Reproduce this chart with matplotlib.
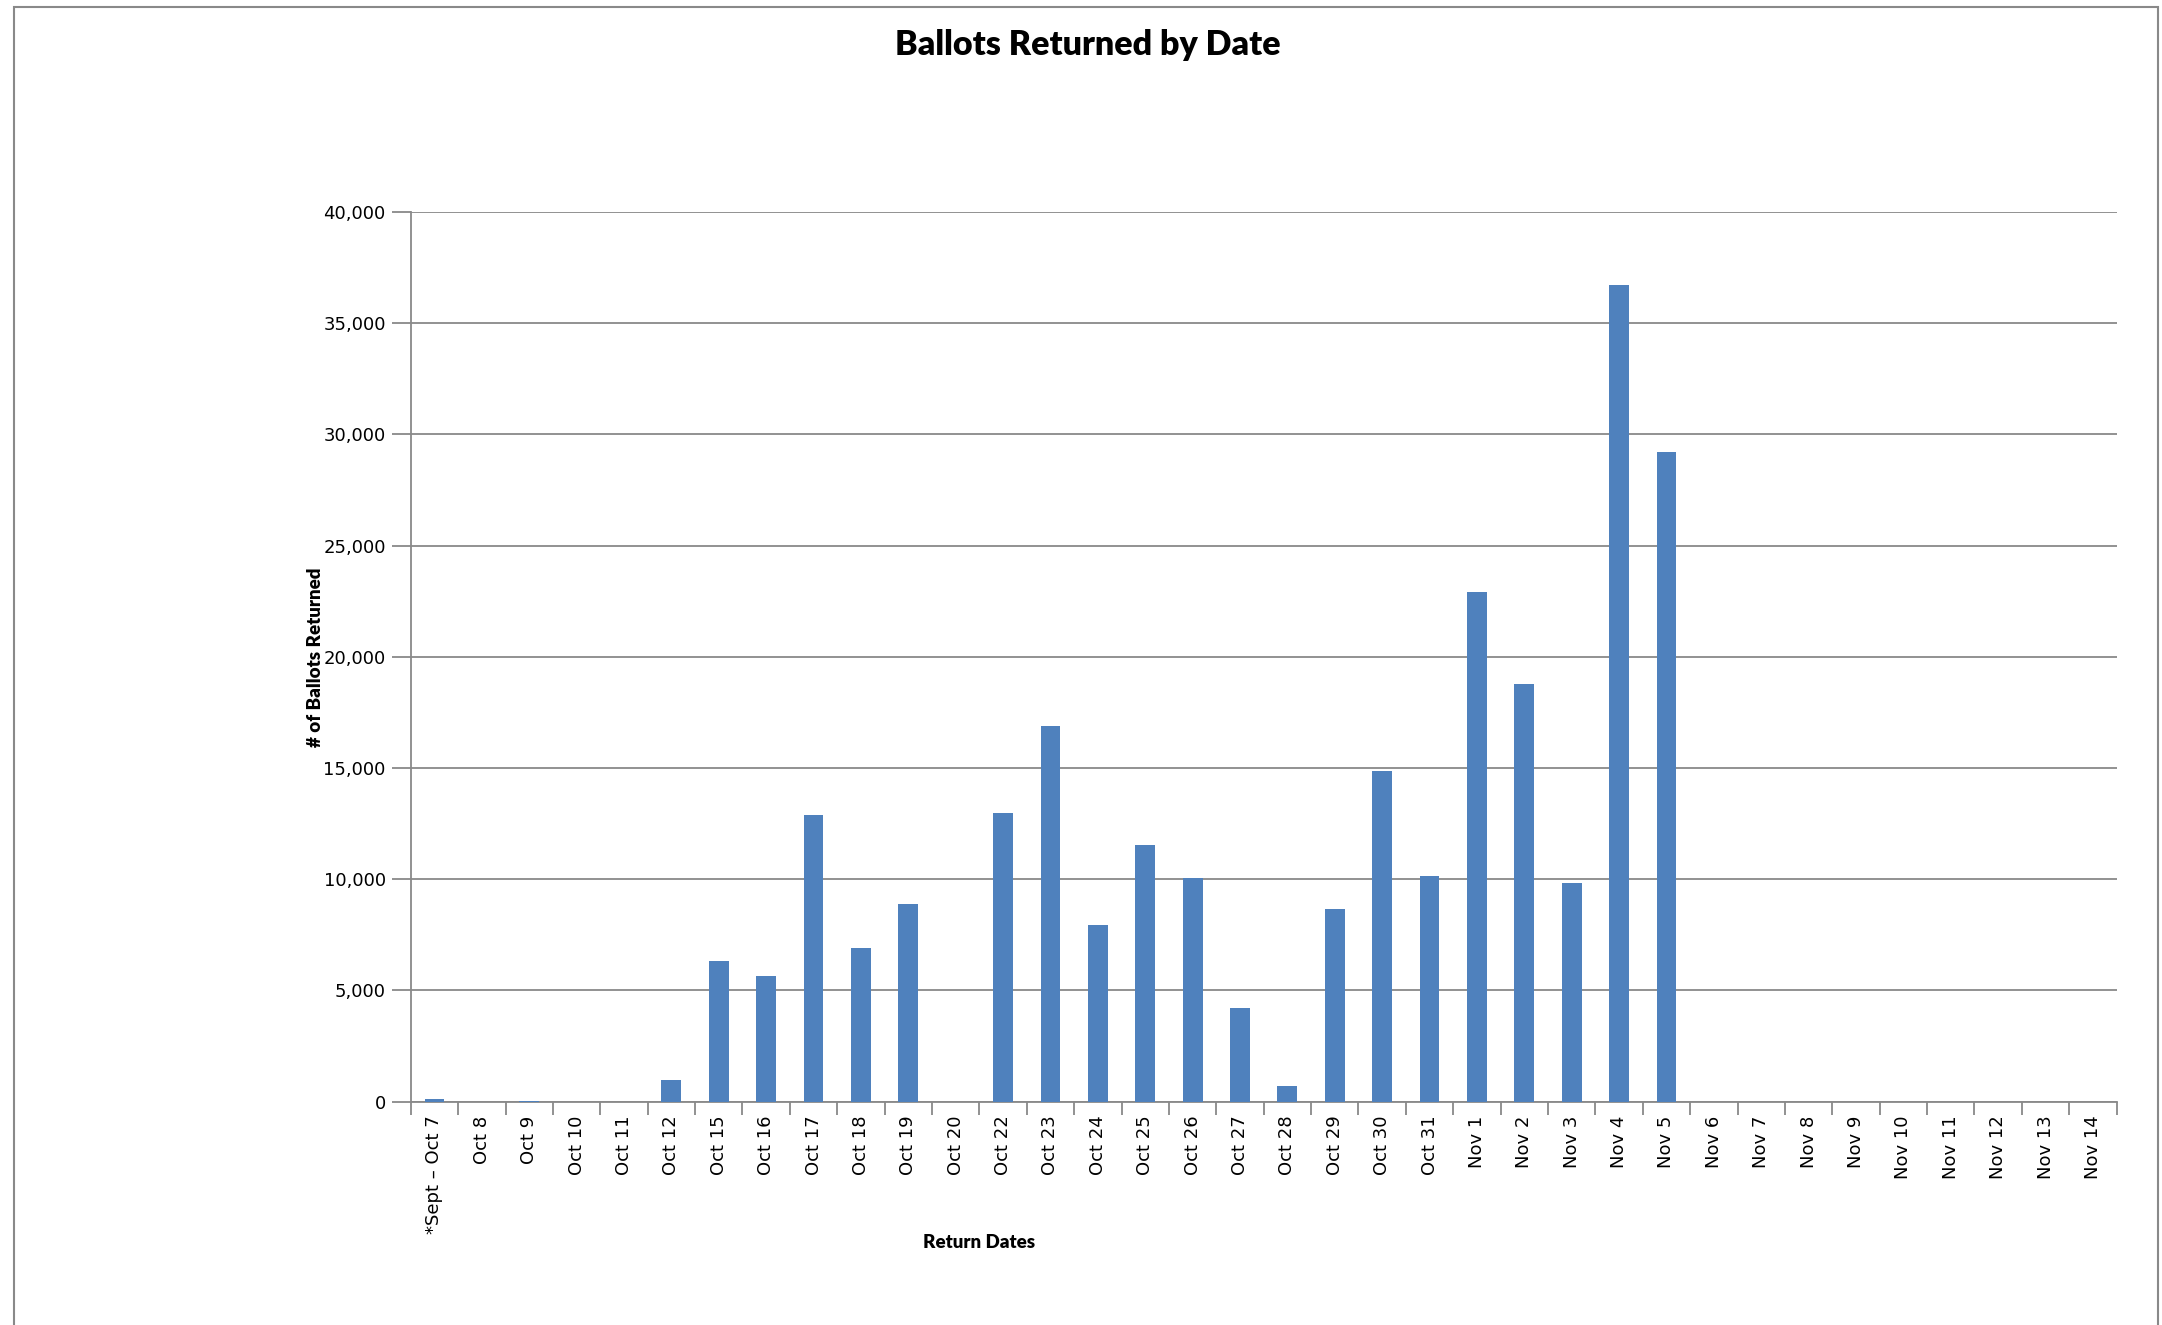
import matplotlib.pyplot as plt
from matplotlib.patches import Rectangle
import numpy as np

# Data
dates = ["*Sept \u2013 Oct 7", "Oct 8", "Oct 9", "Oct 10", "Oct 11", "Oct 12",
         "Oct 15", "Oct 16", "Oct 17", "Oct 18", "Oct 19", "Oct 20",
         "Oct 22", "Oct 23", "Oct 24", "Oct 25", "Oct 26", "Oct 27", "Oct 28",
         "Oct 29", "Oct 30", "Oct 31",
         "Nov 1", "Nov 2", "Nov 3", "Nov 4", "Nov 5", "Nov 6", "Nov 7",
         "Nov 8", "Nov 9", "Nov 10", "Nov 11", "Nov 12", "Nov 13", "Nov 14"]
ballots = [120, 0, 20, 0, 0, 950,
           6300, 5650, 12900, 6900, 8870, 0,
           12980, 16880, 7950, 11550, 10050, 4230, 700,
           8680, 14880, 10150,
           22900, 18780, 9850, 36720, 29200, 0, 0,
           0, 0, 0, 0, 0, 0, 0]
y_ticks = [0, 5000, 10000, 15000, 20000, 25000, 30000, 35000, 40000]

bar_color = "#4F81BD"
axis_gray = "#898989"

fig = plt.figure(figsize=(21.62, 13.25), dpi=100)
ax = fig.add_axes([0.190, 0.1686, 0.789, 0.6714])

x = np.arange(len(dates))
ax.bar(x, ballots, width=0.42, color=bar_color, zorder=3)

ax.set_xlim(-0.5, len(dates) - 0.5)
ax.set_ylim(0, 40000)
ax.set_yticks(y_ticks)
ax.set_yticklabels([f"{v:,}" for v in y_ticks], fontsize=13, family="DejaVu Sans")
ax.yaxis.grid(True, color=axis_gray, linewidth=1.3, zorder=0)

# labels at category centres, tick marks between categories
ax.set_xticks(x)
ax.set_xticklabels(dates, rotation=90, fontsize=13, family="DejaVu Sans")
ax.set_xticks(np.arange(-0.5, len(dates), 1.0), minor=True)
ax.tick_params(axis="x", which="major", length=0, pad=10)
ax.tick_params(axis="x", which="minor", length=9, width=1.3, color=axis_gray)
ax.tick_params(axis="y", length=14, width=1.3, color=axis_gray, pad=4)

for side in ["top", "right"]:
    ax.spines[side].set_visible(False)
for side in ["left", "bottom"]:
    ax.spines[side].set_color(axis_gray)
    ax.spines[side].set_linewidth(1.3)

fig.text(0.503, 0.966, "Ballots Returned by Date", ha="center", va="center",
         fontsize=24.5, fontweight="heavy", family="Lato")
fig.text(0.453, 0.062, "Return Dates", ha="center", va="center",
         fontsize=13.5, fontweight="heavy", family="Lato")
fig.text(0.146, 0.504, "# of Ballots Returned", ha="center", va="center",
         rotation=90, fontsize=13.5, fontweight="heavy", family="Lato")

# chart-area border
fig.patches.append(Rectangle((0.0065, -0.1), 0.9915, 1.0947, transform=fig.transFigure,
                             fill=False, edgecolor=axis_gray, linewidth=1.5))

fig.savefig("out.png", dpi=100)
